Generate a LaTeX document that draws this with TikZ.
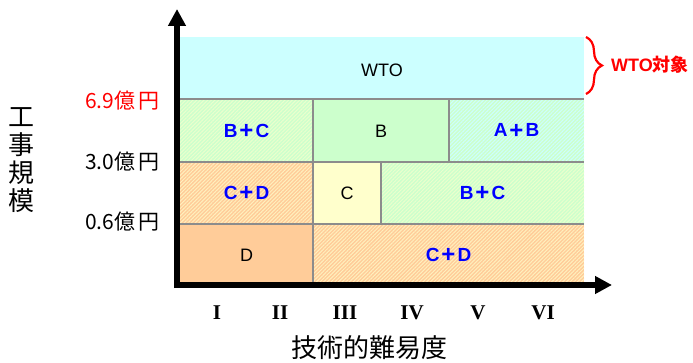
\documentclass[tikz,border=0pt]{standalone}
\usepackage{fontspec}
\setmainfont{Liberation Sans}
\newfontfamily\jp{Noto Sans CJK JP}
\newfontfamily\ser{Liberation Serif}
\usetikzlibrary{arrows.meta,patterns.meta,decorations.pathreplacing}
\definecolor{wtoc}{HTML}{CCFFFF}
\definecolor{grn}{HTML}{CCFFCC}
\definecolor{yel}{HTML}{FFFFCC}
\definecolor{org}{HTML}{FFCC99}
\definecolor{gridc}{HTML}{8C8C8C}
\definecolor{lblue}{HTML}{0000FF}
\tikzset{
  hatch/.style={pattern={Lines[angle=45,distance=2.6pt,line width=1pt]},pattern color=#1},
  sep/.style={draw=gridc,line width=2.6pt},
  axisline/.style={line width=6pt,-{Triangle[length=17pt,width=17pt]}},
  single/.style={font=\fontsize{18}{18}\selectfont,text=black,inner sep=0pt},
  combo/.style={font=\fontsize{19}{19}\selectfont\bfseries,text=lblue,inner sep=0pt},
  ylab/.style={font=\jp\fontsize{21}{21}\selectfont,anchor=east,inner sep=0pt},
  xlab/.style={font=\ser\bfseries\fontsize{21}{21}\selectfont,inner sep=0pt},
  title/.style={font=\jp\fontsize{26}{28}\selectfont,inner sep=0pt},
}
\newcommand{\pl}{\hspace{2pt}\raisebox{-1.2pt}{\fontsize{24}{24}\selectfont+}\hspace{2pt}}
\begin{document}
\begin{tikzpicture}[x=1pt,y=-1pt]
\useasboundingbox (0,0) rectangle (693,363);
% cells
\fill[wtoc] (180,37) rectangle (584,99);
\fill[grn] (180,99) rectangle (313,162);
\fill[hatch=yel!60!grn] (180,99) rectangle (313,162);
\fill[grn] (313,99) rectangle (449,162);
\fill[grn] (449,99) rectangle (584,162);
\fill[hatch=wtoc] (449,99) rectangle (584,162);
\fill[org] (180,162) rectangle (313,224);
\fill[hatch=yel!70!org] (180,162) rectangle (313,224);
\fill[yel] (313,162) rectangle (381,224);
\fill[grn] (381,162) rectangle (584,224);
\fill[hatch=yel!60!grn] (381,162) rectangle (584,224);
\fill[org] (180,224) rectangle (313,285);
\fill[org] (313,224) rectangle (584,285);
\fill[hatch=yel!70!org] (313,224) rectangle (584,285);
% separators
\coordinate (r1l) at (180,99);  \coordinate (r1r) at (584,99);
\coordinate (r2l) at (180,162); \coordinate (r2r) at (584,162);
\coordinate (r3l) at (180,224); \coordinate (r3r) at (584,224);
\coordinate (v1t) at (313,99);  \coordinate (v1b) at (313,287);
\coordinate (v2t) at (449,99);  \coordinate (v2b) at (449,162);
\coordinate (v3t) at (381,162); \coordinate (v3b) at (381,224);
\draw[sep] (r1l) -- (r1r);
\draw[sep] (r2l) -- (r2r);
\draw[sep] (r3l) -- (r3r);
\draw[sep] (v1t) -- (v1b);
\draw[sep] (v2t) -- (v2b);
\draw[sep] (v3t) -- (v3b);
% axes
\coordinate (ybot) at (177,288); \coordinate (ytip) at (177,9);
\coordinate (xleft) at (174,285); \coordinate (xtip) at (612,285);
\draw[axisline] (ybot) -- (ytip);
\draw[axisline] (xleft) -- (xtip);
% cell labels
\node[single] (wto) at (382,70) {WTO};
\node[combo] (bc1) at (246.5,131) {B\pl C};
\node[single] (b) at (381,131) {B};
\node[combo] (ab) at (516.5,131) {A\pl B};
\node[combo] (cd1) at (246.5,193) {C\pl D};
\node[single] (c) at (347,193) {C};
\node[combo] (bc2) at (482.5,193) {B\pl C};
\node[single] (d) at (246.5,255) {D};
\node[combo] (cd2) at (448.5,255) {C\pl D};
% y labels
\node[ylab,text=red] (y69) at (160,101) {6.9億\,円};
\node[ylab] (y30) at (160,162) {3.0億\,円};
\node[ylab] (y06) at (160,222) {0.6億\,円};
\node[title,align=center] (ytitle) at (22,160) {工\\事\\規\\模};
% x labels
\node[xlab] (x1) at (217,313) {I};
\node[xlab] (x2) at (280,313) {II};
\node[xlab] (x3) at (345,313) {III};
\node[xlab] (x4) at (412,313) {IV};
\node[xlab] (x5) at (478,313) {V};
\node[xlab] (x6) at (543,313) {VI};
\node[title] (xtitle) at (369,348) {技術的難易度};
% brace
\coordinate (bt) at (586,37); \coordinate (bb) at (586,94);
\draw[red,line width=2.2pt,decorate,decoration={brace,amplitude=16pt}] (bt) -- (bb);
\node[font=\fontsize{18}{18}\selectfont\bfseries,text=red,anchor=west,inner sep=0pt] (wtot) at (611,65) {WTO{\jp 対象}};
\end{tikzpicture}
\end{document}
